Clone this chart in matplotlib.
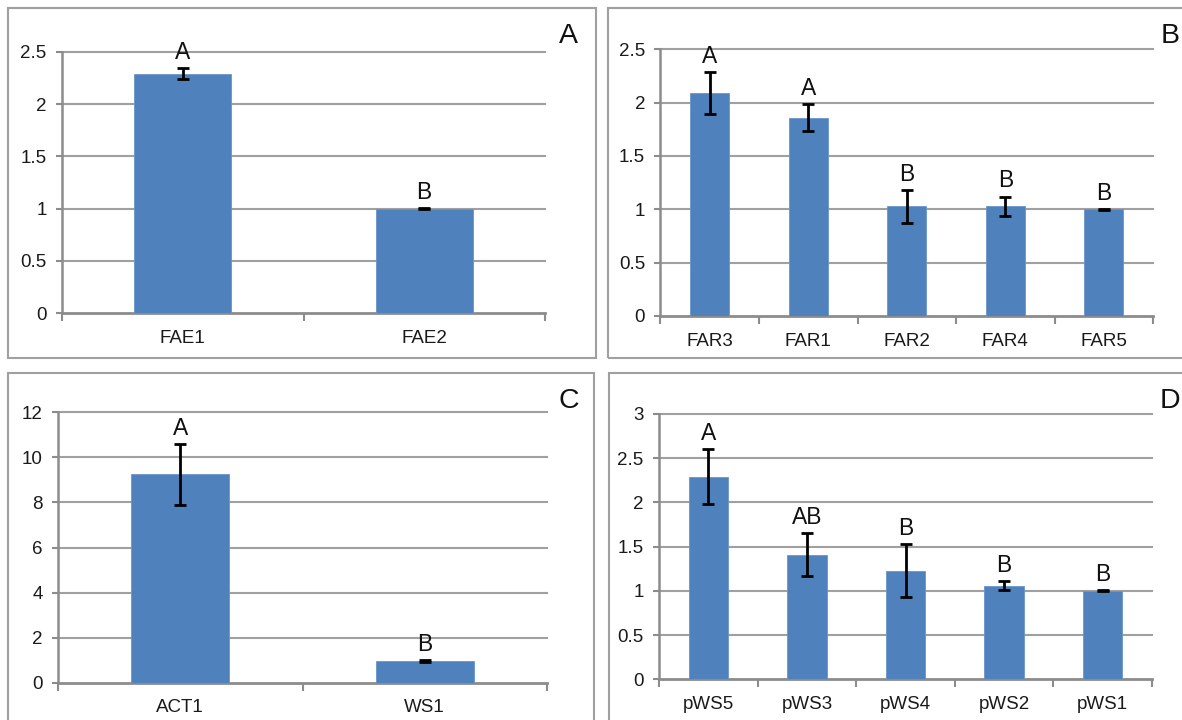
import matplotlib
matplotlib.use("Agg")
import matplotlib.pyplot as plt
from matplotlib.patches import Rectangle

plt.rcParams['font.family'] = ['Liberation Sans', 'DejaVu Sans']

# panel A
fae_names = ['FAE1', 'FAE2']
fae_vals = [2.29, 1.0]
fae_err = [0.055, 0.005]
fae_sig = ['A', 'B']

# panel B
far_names = ['FAR3', 'FAR1', 'FAR2', 'FAR4', 'FAR5']
far_vals = [2.09, 1.86, 1.03, 1.03, 1.0]
far_err = [0.20, 0.13, 0.155, 0.09, 0.005]
far_sig = ['A', 'A', 'B', 'B', 'B']

# panel C
act_names = ['ACT1', 'WS1']
act_vals = [9.25, 0.96]
act_err = [1.36, 0.03]
act_sig = ['A', 'B']

# panel D
pws_names = ['pWS5', 'pWS3', 'pWS4', 'pWS2', 'pWS1']
pws_vals = [2.29, 1.41, 1.23, 1.06, 1.0]
pws_err = [0.31, 0.245, 0.30, 0.05, 0.005]
pws_sig = ['A', 'AB', 'B', 'B', 'B']

W, H = 1182, 720
fig = plt.figure(figsize=(W / 100, H / 100), dpi=100)

BAR = '#4f81bd'
GRID = '#a0a0a0'
AXC = '#8c8c8c'


def px_axes(l, t, r, b):
    return fig.add_axes([l / W, 1 - b / H, (r - l) / W, (b - t) / H])


def box(l, t, r, b):
    fig.patches.append(Rectangle((l / W, 1 - b / H), (r - l) / W, (b - t) / H,
                                 transform=fig.transFigure, fill=False,
                                 edgecolor='#a0a0a0', linewidth=1.5))


def panel(ax, names, vals, errs, sig, yticks, tag, tag_xy):
    n = len(names)
    x = list(range(n))
    ax.bar(x, vals, width=0.4, color=BAR, edgecolor='#6a95c9', linewidth=0.6, zorder=3)
    ax.errorbar(x, vals, yerr=errs, fmt='none', ecolor='black', elinewidth=2.0,
                capsize=4.2, capthick=2.0, zorder=4)
    for xi, v, e, s in zip(x, vals, errs, sig):
        ax.annotate(s, (xi, v + e), xytext=(0, 6.5), textcoords='offset points',
                    ha='center', va='baseline', fontsize=16.5, color='#111111')
    ax.set_xlim(-0.5, n - 0.5)
    ax.set_ylim(yticks[0], yticks[-1])
    ax.set_yticks(yticks)
    ax.set_yticklabels([('%g' % t) for t in yticks])
    for t in yticks[1:]:
        ax.axhline(t, color=GRID, linewidth=1.5, zorder=1, clip_on=False)
    ax.set_xticks(x)
    ax.set_xticklabels(names)
    ax.set_xticks([i - 0.5 for i in range(n + 1)], minor=True)
    ax.tick_params(axis='x', which='major', length=0, pad=12, labelsize=13.5,
                   labelcolor='#1a1a1a')
    ax.tick_params(axis='x', which='minor', length=6, width=1.5, color=AXC, direction='out')
    ax.tick_params(axis='y', length=4.5, width=1.5, color=AXC, direction='out',
                   labelsize=13.5, labelcolor='#1a1a1a', pad=6.5)
    for s in ['top', 'right']:
        ax.spines[s].set_visible(False)
    for s in ['left', 'bottom']:
        ax.spines[s].set_color(AXC)
        ax.spines[s].set_linewidth(1.8)
    ax.spines['bottom'].set_linewidth(2)
    ax.set_facecolor('none')
    fig.text(tag_xy[0] / W, 1 - tag_xy[1] / H, tag, fontsize=20.5, ha='center', va='center',
             color='#111111')


box(8, 8, 596, 358)
box(608, 8, 1195, 358)
box(8, 373, 594, 730)
box(609, 373, 1195, 730)

axA = px_axes(62, 51.7, 545, 313.3)
panel(axA, fae_names, fae_vals, fae_err, fae_sig, [0, 0.5, 1, 1.5, 2, 2.5], 'A', (568, 36))

axB = px_axes(660.5, 49.3, 1153, 316)
panel(axB, far_names, far_vals, far_err, far_sig, [0, 0.5, 1, 1.5, 2, 2.5], 'B', (1170, 36))

axC = px_axes(58, 412.3, 547, 682.7)
panel(axC, act_names, act_vals, act_err, act_sig, [0, 2, 4, 6, 8, 10, 12], 'C', (569, 401))

axD = px_axes(659, 414, 1152, 679.3)
panel(axD, pws_names, pws_vals, pws_err, pws_sig, [0, 0.5, 1, 1.5, 2, 2.5, 3], 'D', (1170, 401))

fig.savefig('out.png', dpi=100)
